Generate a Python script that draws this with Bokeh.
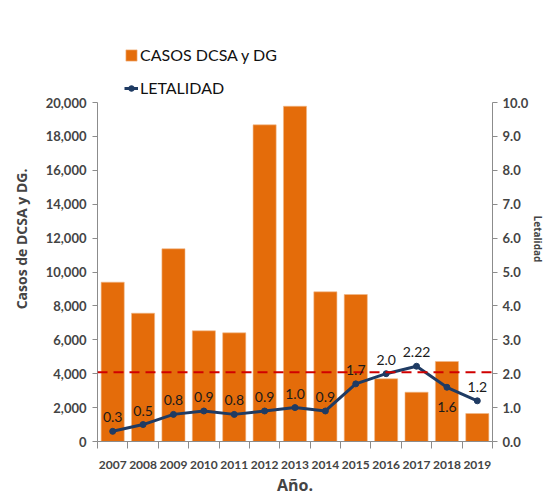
from bokeh.plotting import figure
from bokeh.models import (ColumnDataSource, Range1d, LinearAxis, FixedTicker,
                          NumeralTickFormatter, Span, Legend, LegendItem, LabelSet)
from bokeh.core.properties import value
from bokeh.embed import file_html
from bokeh.resources import INLINE

years = ["2007", "2008", "2009", "2010", "2011", "2012", "2013",
         "2014", "2015", "2016", "2017", "2018", "2019"]
casos = [9400, 7570, 11370, 6530, 6410, 18680, 19780,
         8830, 8670, 3700, 2910, 4720, 1650]
letalidad = [0.3, 0.5, 0.8, 0.9, 0.8, 0.9, 1.0, 0.9, 1.7, 2.0, 2.22, 1.6, 1.2]
letalidad_labels = ["0.3", "0.5", "0.8", "0.9", "0.8", "0.9", "1.0",
                    "0.9", "1.7", "2.0", "2.22", "1.6", "1.2"]
labels_below = ["2018"]
umbral_letalidad = 2.04
casos_max = 20000
letalidad_max = 10

FONT = "Lato"
ORANGE = "#E46C0A"
NAVY = "#1F3B63"
AXIS_GRAY = "#8C8C8C"

W, H = 548, 498
B_LEFT, B_RIGHT, B_TOP, B_BOTTOM = 97, 53, 36, 57
axis_px = 339                      # pixel height of the 0..max axis span
frame_px = H - B_TOP - B_BOTTOM
stretch = frame_px / axis_px       # headroom above the axes for the legend

xs = list(range(len(years)))
src = ColumnDataSource(dict(
    x=xs, casos=casos, let=letalidad, lbl=letalidad_labels,
    dy=[-20 if y in labels_below else 14 for y in years],
))

p = figure(output_backend="svg", toolbar_location=None,
           width=W, height=H,
           x_range=Range1d(-0.5, len(years) - 0.5),
           y_range=Range1d(0, casos_max * stretch),
           min_border_left=B_LEFT, min_border_right=B_RIGHT,
           min_border_top=B_TOP, min_border_bottom=B_BOTTOM)
p.extra_y_ranges = {"right": Range1d(0, letalidad_max * stretch)}
p.outline_line_color = None
p.xgrid.visible = False
p.ygrid.visible = False
p.background_fill_color = "white"
p.border_fill_color = "white"

bars = p.vbar(x="x", top="casos", width=0.76, source=src,
              fill_color=ORANGE, line_color="#F0B98A", line_width=0.6)

sp = Span(location=umbral_letalidad, dimension="width", y_range_name="right",
          line_color="#D00000", line_dash="10 6", line_width=2)
p.add_layout(sp)

line = p.line(x="x", y="let", source=src, y_range_name="right",
              line_color=NAVY, line_width=3)
pts = p.scatter(x="x", y="let", source=src, y_range_name="right",
                size=6, marker="circle", fill_color=NAVY, line_color=NAVY)

labels = LabelSet(x="x", y="let", text="lbl", y_offset="dy", source=src,
                  y_range_name="right", text_align="center",
                  text_baseline="middle", text_font=value(FONT),
                  text_font_size="14px", text_color="#1a1a1a")
p.add_layout(labels)

# x axis
xa = p.xaxis[0]
xa.ticker = FixedTicker(ticks=xs, minor_ticks=[i - 0.5 for i in range(len(years) + 1)])
xa.major_label_overrides = {i: y for i, y in enumerate(years)}
xa.major_tick_line_color = None
xa.minor_tick_out = 7
xa.minor_tick_in = 0
xa.minor_tick_line_color = AXIS_GRAY
xa.axis_line_color = AXIS_GRAY
xa.major_label_text_font = FONT
xa.major_label_text_font_style = "bold"
xa.major_label_text_font_size = "12px"
xa.major_label_standoff = 12
xa.axis_label = "Año."
xa.axis_label_text_font = "Open Sans"
xa.axis_label_text_font_style = "bold"
xa.axis_label_text_font_size = "16px"
xa.axis_label_standoff = 2

# left axis
ya = p.yaxis[0]
ya.ticker = FixedTicker(ticks=list(range(0, casos_max + 1, 2000)))
ya.formatter = NumeralTickFormatter(format="0,0")
ya.bounds = (0, casos_max)
ya.axis_line_color = AXIS_GRAY
ya.major_tick_line_color = AXIS_GRAY
ya.major_tick_out = 5
ya.major_tick_in = 0
ya.minor_tick_line_color = None
ya.major_label_text_font = FONT
ya.major_label_text_font_style = "bold"
ya.major_label_text_font_size = "13px"
ya.major_label_standoff = 6
ya.axis_label = "Casos de DCSA y DG."
ya.axis_label_text_font = "Open Sans"
ya.axis_label_text_font_style = "bold"
ya.axis_label_text_font_size = "14px"
ya.axis_label_standoff = 12

# right axis
ra = LinearAxis(y_range_name="right",
                ticker=FixedTicker(ticks=list(range(0, letalidad_max + 1))),
                formatter=NumeralTickFormatter(format="0.0"),
                bounds=(0, letalidad_max))
ra.axis_line_color = AXIS_GRAY
ra.major_tick_line_color = AXIS_GRAY
ra.major_tick_out = 5
ra.major_tick_in = 0
ra.minor_tick_line_color = None
ra.major_label_text_font = FONT
ra.major_label_text_font_style = "bold"
ra.major_label_text_font_size = "13px"
ra.major_label_standoff = 5
ra.axis_label = "Letalidad"
ra.axis_label_text_font = "Open Sans"
ra.axis_label_text_font_style = "bold"
ra.axis_label_text_font_size = "10px"
ra.axis_label_standoff = 0
p.add_layout(ra, "right")

legend = Legend(items=[LegendItem(label="CASOS DCSA y DG", renderers=[bars]),
                       LegendItem(label="LETALIDAD", renderers=[line, pts])],
                location=(27, H - B_BOTTOM - 97 - B_TOP + 36), orientation="vertical",
                label_text_font=FONT, label_text_font_size="16px",
                label_text_color="#111111",
                glyph_width=14, glyph_height=14, label_standoff=2,
                spacing=14, padding=2, margin=0,
                border_line_color=None, background_fill_alpha=0)
p.add_layout(legend)

open("out.html", "w").write(file_html(p, INLINE))
